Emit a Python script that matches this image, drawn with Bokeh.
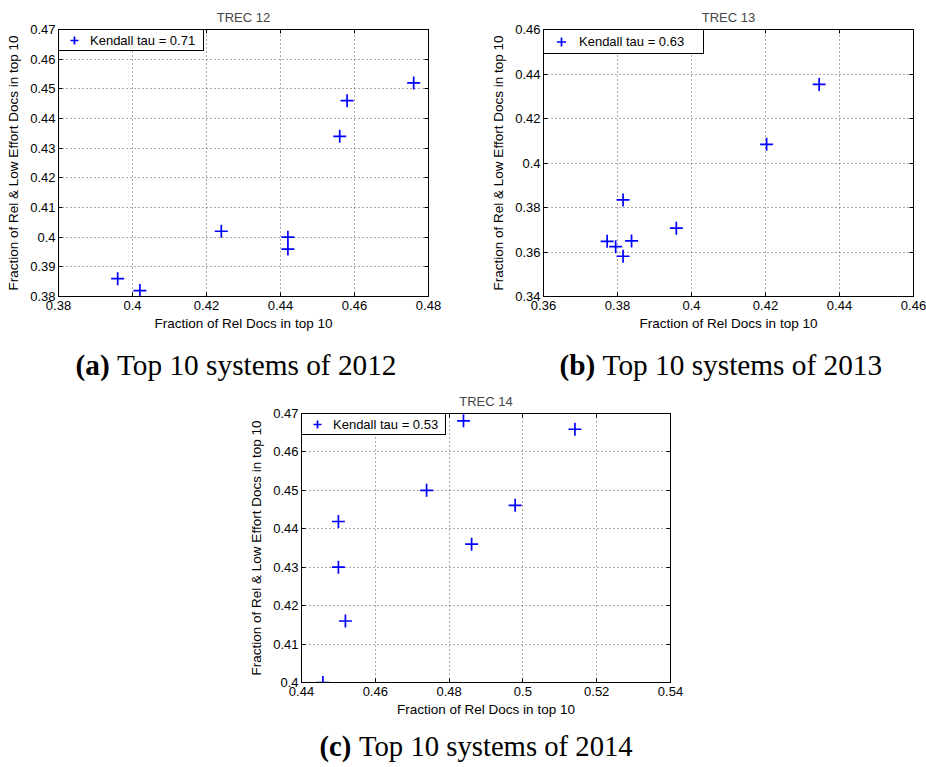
from bokeh.plotting import figure
from bokeh.layouts import column, row
from bokeh.models import (FixedTicker, LinearAxis, Range1d, Label, Legend,
                          LegendItem, Spacer)
from bokeh.embed import file_html
from bokeh.resources import INLINE

# TREC 12 (2012): top-10 systems
x_2012 = [0.396, 0.402, 0.424, 0.442, 0.442, 0.456, 0.458, 0.476]
y_2012 = [0.386, 0.382, 0.402, 0.400, 0.396, 0.434, 0.446, 0.452]
tau_2012 = 0.71

# TREC 13 (2013)
x_2013 = [0.3772, 0.3795, 0.3815, 0.3815, 0.3838, 0.3959, 0.4203, 0.4345]
y_2013 = [0.3648, 0.3624, 0.3834, 0.3581, 0.3650, 0.3707, 0.4084, 0.4353]
tau_2013 = 0.63

# TREC 14 (2014)
x_2014 = [0.4458, 0.4500, 0.4500, 0.4519, 0.4739, 0.4839, 0.4861, 0.4979, 0.5141]
y_2014 = [0.4000, 0.4419, 0.4300, 0.4160, 0.4500, 0.4681, 0.4360, 0.4461, 0.4659]
tau_2014 = 0.53

# axis ticks and their labels
xt_2012 = [0.38, 0.40, 0.42, 0.44, 0.46, 0.48]
xl_2012 = ["0.38", "0.4", "0.42", "0.44", "0.46", "0.48"]
yt_2012 = [0.38, 0.39, 0.40, 0.41, 0.42, 0.43, 0.44, 0.45, 0.46, 0.47]
yl_2012 = ["0.38", "0.39", "0.4", "0.41", "0.42", "0.43", "0.44", "0.45", "0.46", "0.47"]

xt_2013 = [0.36, 0.38, 0.40, 0.42, 0.44, 0.46]
xl_2013 = ["0.36", "0.38", "0.4", "0.42", "0.44", "0.46"]
yt_2013 = [0.34, 0.36, 0.38, 0.40, 0.42, 0.44, 0.46]
yl_2013 = ["0.34", "0.36", "0.38", "0.4", "0.42", "0.44", "0.46"]

xt_2014 = [0.44, 0.46, 0.48, 0.50, 0.52, 0.54]
xl_2014 = ["0.44", "0.46", "0.48", "0.5", "0.52", "0.54"]
yt_2014 = [0.40, 0.41, 0.42, 0.43, 0.44, 0.45, 0.46, 0.47]
yl_2014 = ["0.4", "0.41", "0.42", "0.43", "0.44", "0.45", "0.46", "0.47"]

titles = ["TREC 12", "TREC 13", "TREC 14"]
caption_tags = ["(a)", "(b)", "(c)"]
caption_texts = ["Top 10 systems of 2012", "Top 10 systems of 2013",
                 "Top 10 systems of 2014"]

X_LABEL = "Fraction of Rel Docs in top 10"
Y_LABEL = "Fraction of Rel & Low Effort Docs in top 10"

SANS = "Liberation Sans"
SERIF = "Liberation Serif"
BLUE = "#0000ff"


def panel(xs, ys, tau, xt, xl, yt, yl, title, width, height, borders,
          legend_geom):
    left, right, top, bottom = borders
    p = figure(width=width, height=height, output_backend="svg",
               toolbar_location=None, tools="",
               x_range=Range1d(xt[0], xt[-1]), y_range=Range1d(yt[0], yt[-1]),
               min_border_left=left, min_border_right=right,
               min_border_top=top, min_border_bottom=bottom,
               x_axis_label=X_LABEL, y_axis_label=Y_LABEL)
    p.title.text = title
    p.title.align = "center"
    p.title.text_font = SANS
    p.title.text_font_style = "normal"
    p.title.text_font_size = "13px"
    p.title.standoff = 9
    p.outline_line_color = "black"
    p.outline_line_alpha = 1
    p.background_fill_color = "white"
    p.border_fill_color = "white"

    xticker = FixedTicker(ticks=xt)
    yticker = FixedTicker(ticks=yt)
    p.xaxis.ticker = xticker
    p.yaxis.ticker = yticker
    p.xaxis.major_label_overrides = {t: s for t, s in zip(xt, xl)}
    p.yaxis.major_label_overrides = {t: s for t, s in zip(yt, yl)}
    for ax in (p.xaxis[0], p.yaxis[0]):
        ax.major_label_text_font = SANS
        ax.major_label_text_font_size = "13px"
        ax.major_label_text_color = "black"
        ax.axis_label_text_font = SANS
        ax.axis_label_text_font_size = "13.5px"
        ax.axis_label_text_font_style = "normal"
        ax.axis_label_text_color = "black"
        ax.major_tick_in = 4
        ax.major_tick_out = 0
        ax.minor_tick_line_color = None
        ax.axis_line_color = "black"
        ax.major_tick_line_color = "black"
    p.xaxis.major_label_standoff = 4
    p.xaxis.axis_label_standoff = 3
    p.yaxis.major_label_standoff = 3
    p.yaxis.axis_label_standoff = 6

    # tick marks mirrored on the top and right edges of the box (no labels)
    for side, tk in (("above", xticker), ("right", yticker)):
        ax = LinearAxis(ticker=tk, major_label_text_font_size="1px",
                        major_label_text_color=None,
                        major_label_standoff=0, major_tick_in=4,
                        major_tick_out=0, minor_tick_line_color=None,
                        axis_line_color="black", major_tick_line_color="black")
        p.add_layout(ax, side)

    p.grid.grid_line_color = "#555555"
    p.grid.grid_line_dash = "1 3"
    p.grid.grid_line_width = 1
    p.xgrid.ticker = xticker
    p.ygrid.ticker = yticker

    r = p.scatter(xs, ys, marker="cross", size=13, line_width=1.7,
                  line_color=BLUE)

    gw, gh, standoff, lw = legend_geom
    legend = Legend(items=[LegendItem(label=f"Kendall tau = {tau:.2f}",
                                      renderers=[r])],
                    location="top_left", margin=0, padding=0, spacing=0,
                    glyph_width=gw, glyph_height=gh, label_standoff=standoff,
                    label_width=lw, label_height=gh,
                    label_text_font=SANS, label_text_font_size="13px",
                    label_text_color="black",
                    border_line_color="black", border_line_width=1,
                    border_line_alpha=1, background_fill_alpha=1)
    p.add_layout(legend, "center")
    return p


def caption(tag, text, width, height, x0, bottom, tag_w, size):
    # a bare canvas (no axes, no title) holding the sub-figure caption
    c = figure(width=width, height=height, output_backend="svg",
               toolbar_location=None, tools="", title=None,
               x_axis_location=None, y_axis_location=None,
               x_range=Range1d(0, width), y_range=Range1d(0, height),
               min_border=0, min_border_left=0, min_border_right=0,
               min_border_top=0, min_border_bottom=0)
    c.grid.visible = False
    c.outline_line_color = None
    c.add_layout(Label(x=x0, y=bottom, x_units="screen", y_units="screen",
                       text=tag, text_font=SERIF, text_font_size=size,
                       text_font_style="bold", text_color="black",
                       text_baseline="bottom"))
    c.add_layout(Label(x=x0 + tag_w, y=bottom, x_units="screen",
                       y_units="screen", text=text, text_font=SERIF,
                       text_font_size=size, text_color="black",
                       text_baseline="bottom"))
    return c


pa = panel(x_2012, y_2012, tau_2012, xt_2012, xl_2012, yt_2012, yl_2012,
           titles[0], 463, 340, (58, 35, 28, 42), (30, 20, 1, 113))
pb = panel(x_2013, y_2013, tau_2013, xt_2013, xl_2013, yt_2013, yl_2013,
           titles[1], 463, 340, (80, 13, 29, 44), (34, 23, 1, 124))
pc = panel(x_2014, y_2014, tau_2014, xt_2014, xl_2014, yt_2014, yl_2014,
           titles[2], 463, 337, (58, 36, 28, 40), (30, 20, 1, 112))

ca = caption(caption_tags[0], caption_texts[0], 463, 45, 75, 5, 41.5, "29.3px")
cb = caption(caption_tags[1], caption_texts[1], 463, 45, 96, 5, 43.1, "29.3px")
cc = caption(caption_tags[2], caption_texts[2], 463, 45, 76, 6, 39.5, "28.7px")

layout = column(row(pa, pb), row(ca, cb),
                row(Spacer(width=243, height=337), pc),
                row(Spacer(width=243, height=45), cc))

open("out.html", "w").write(file_html(layout, INLINE))
